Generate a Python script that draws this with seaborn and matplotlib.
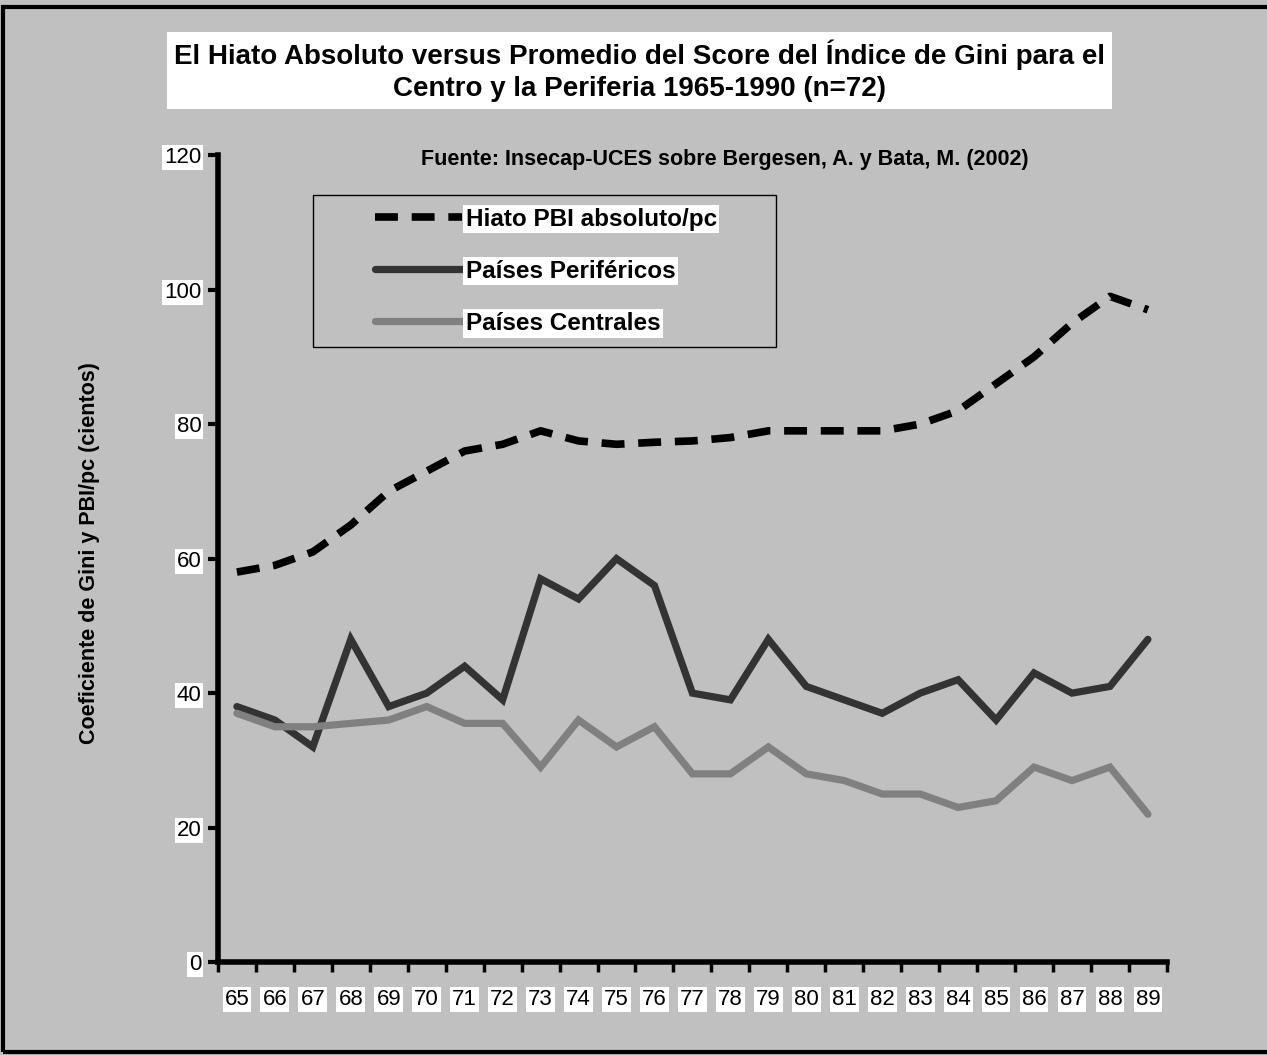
import matplotlib
matplotlib.use("Agg")
import matplotlib.pyplot as plt
import matplotlib.patches as mpatches
import pandas as pd
import seaborn as sns

# data
years = [65, 66, 67, 68, 69, 70, 71, 72, 73, 74, 75, 76, 77,
         78, 79, 80, 81, 82, 83, 84, 85, 86, 87, 88, 89]
hiato = [58, 59, 61, 65, 70, 73, 76, 77, 79, 77.5, 77, 77.3, 77.5,
         78, 79, 79, 79, 79, 80, 82, 86, 90, 95, 99, 97]
perifericos = [38, 36, 32, 48, 38, 40, 44, 39, 57, 54, 60, 56, 40,
               39, 48, 41, 39, 37, 40, 42, 36, 43, 40, 41, 48]
centrales = [37, 35, 35, 35.5, 36, 38, 35.5, 35.5, 29, 36, 32, 35, 28,
             28, 32, 28, 27, 25, 25, 23, 24, 29, 27, 29, 22]
y_ticks = [0, 20, 40, 60, 80, 100, 120]

df = pd.DataFrame({'year': years, 'hiato': hiato,
                   'perifericos': perifericos, 'centrales': centrales})

sns.set_style('white')
plt.rcParams['font.family'] = ['Liberation Sans', 'DejaVu Sans']
plt.rcParams['text.color'] = 'black'
plt.rcParams['xtick.color'] = 'black'
plt.rcParams['ytick.color'] = 'black'
plt.rcParams['axes.labelcolor'] = 'black'

BG = '#c0c0c0'
fig = plt.figure(figsize=(12.67, 10.55), dpi=100)
fig.patch.set_facecolor(BG)
fig.patches.append(mpatches.Rectangle((0.002, 0.003), 1.2, 0.99, transform=fig.transFigure,
                                      fill=False, edgecolor='black', linewidth=3))
ax = fig.add_axes([0.172, 0.088, 0.749, 0.765])
ax.set_facecolor(BG)

sns.lineplot(data=df, x='year', y='hiato', color='black', linewidth=5.5,
             ax=ax, label='Hiato PBI absoluto/pc')
ax.lines[-1].set_dashes((3.0, 1.8))
sns.lineplot(data=df, x='year', y='perifericos', color='#333333', linewidth=5.2,
             ax=ax, label='Países Periféricos')
sns.lineplot(data=df, x='year', y='centrales', color='#808080', linewidth=5.2,
             ax=ax, label='Países Centrales')
for ln in ax.lines:
    ln.set_solid_capstyle('round')
    ln.set_solid_joinstyle('miter')

ax.set_ylim(0, 120)
ax.set_xlim(years[0] - 0.5, years[-1] + 0.5)
ax.set_yticks(y_ticks)
ax.set_xticks(years)
ax.set_xticks([y - 0.5 for y in years] + [years[-1] + 0.5], minor=True)
ax.tick_params(axis='x', which='major', length=0, pad=19, labelsize=16)
ax.tick_params(axis='x', which='minor', length=7, width=2.5, direction='out', bottom=True)
ax.tick_params(axis='y', length=7, width=3, direction='out', left=True, labelsize=16, pad=5)
for lab in ax.get_xticklabels() + ax.get_yticklabels():
    lab.set_bbox(dict(facecolor='white', edgecolor='none', pad=1.5))

for side in ['top', 'right']:
    ax.spines[side].set_visible(False)
for side in ['left', 'bottom']:
    ax.spines[side].set_linewidth(4)
    ax.spines[side].set_color('black')

ax.set_xlabel('')
ax.set_ylabel('Coeficiente de Gini y PBI/pc (cientos)', fontsize=15.5, fontweight='bold')
ax.yaxis.set_label_coords(-0.124, 0.507)

# legend frame and entries
ax.add_patch(mpatches.Rectangle((0.100, 0.762), 0.488, 0.188, transform=ax.transAxes,
                                fill=False, edgecolor='black', linewidth=1, zorder=5))
leg = ax.legend(loc='upper left', bbox_to_anchor=(0.165, 0.935), frameon=False,
                prop={'weight': 'bold', 'size': 17.5}, handlelength=3.6,
                handletextpad=0.15, labelspacing=1.2, borderpad=0, borderaxespad=0)
for t in leg.get_texts():
    t.set_bbox(dict(facecolor='white', edgecolor='none', pad=2))

ax.text(0.534, 0.994, 'Fuente: Insecap-UCES sobre Bergesen, A. y Bata, M. (2002)',
        transform=ax.transAxes, ha='center', va='center', fontsize=15.5, fontweight='bold')

fig.text(0.505, 0.933,
         'El Hiato Absoluto versus Promedio del Score del Índice de Gini para el\n'
         'Centro y la Periferia 1965-1990 (n=72)',
         ha='center', va='center', fontsize=20, fontweight='bold', linespacing=1.3,
         bbox=dict(facecolor='white', edgecolor='none', pad=5))

fig.savefig('out.png', dpi=100, facecolor=BG)
